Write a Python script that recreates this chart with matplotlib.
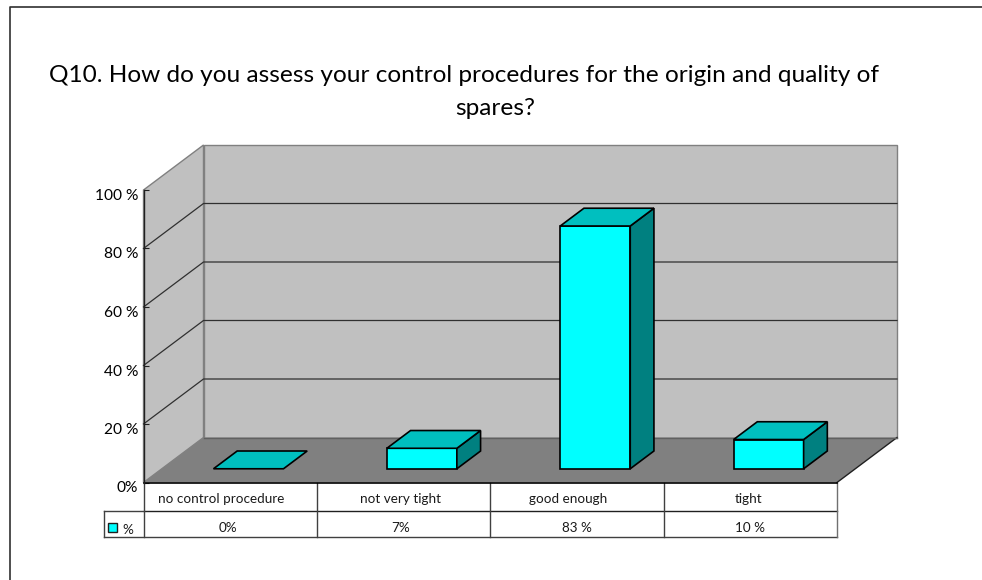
import matplotlib
matplotlib.use("Agg")
import matplotlib.pyplot as plt
from matplotlib.patches import Polygon, Rectangle
from matplotlib.transforms import ScaledTranslation

plt.rcParams['font.family'] = ['Lato', 'DejaVu Sans']

# Survey results
categories = ["no control procedure", "not very tight", "good enough", "tight"]
values = [0, 7, 83, 10]
value_labels = ["0%", "7%", "83 %", "10 %"]
tick_values = [0, 20, 40, 60, 80, 100]
tick_labels = ["0%", "20 %", "40 %", "60 %", "80 %", "100 %"]
series_name = "%"
title_first = "Q10. How do you assess your control procedures for the origin and quality of"
title_second = "spares?"

W, H = 982, 580
fig = plt.figure(figsize=(W / 100, H / 100), dpi=100)

# Plot box of the front plane, in pixels from the top-left corner
PX_L, PX_R, PX_T, PX_B = 143.5, 837.0, 190.0, 482.5
ax = fig.add_axes([PX_L / W, 1 - PX_B / H, (PX_R - PX_L) / W, (PX_B - PX_T) / H])
ax.set_xlim(0, len(categories))
ax.set_ylim(0, 100)
ax.patch.set_alpha(0)
for side in ("top", "right", "bottom"):
    ax.spines[side].set_visible(False)
ax.spines["left"].set_color("#202020")
ax.spines["left"].set_linewidth(1.0)

x_per_px = len(categories) / (PX_R - PX_L)
y_per_px = 100 / (PX_B - PX_T)
DEPTH_X = 60 * x_per_px
DEPTH_Y = 45 * y_per_px


def proj(x, y, d=0.0):
    """Oblique projection: d runs from 0 (front plane) to 1 (back wall)."""
    return (x + d * DEPTH_X, y + d * DEPTH_Y)


def face(points, **kw):
    kw.setdefault("clip_on", False)
    ax.add_patch(Polygon(points, closed=True, **kw))


n = len(categories)
wall_c, floor_c = "#C0C0C0", "#808080"
edge_c = "#808080"

# Back wall, side wall, floor
face([proj(0, 0, 1), proj(n, 0, 1), proj(n, 100, 1), proj(0, 100, 1)],
     facecolor=wall_c, edgecolor=edge_c, linewidth=1.0, zorder=1)
face([proj(0, 0, 0), proj(0, 0, 1), proj(0, 100, 1), proj(0, 100, 0)],
     facecolor=wall_c, edgecolor=edge_c, linewidth=1.0, zorder=1)
face([proj(0, 0, 0), proj(n, 0, 0), proj(n, 0, 1), proj(0, 0, 1)],
     facecolor=floor_c, edgecolor="none", zorder=2)
ax.plot(*zip(proj(n, 0, 0), proj(n, 0, 1)), color="#202020", lw=1.0, zorder=2.1, clip_on=False)
ax.plot(*zip(proj(0, 0, 0), proj(n, 0, 0)), color="black", lw=1.2, zorder=2.1, clip_on=False)
ax.plot(*zip(proj(0, 0, 1), proj(n, 0, 1)), color="#606060", lw=1.0, zorder=2.1, clip_on=False)

# Gridlines along the walls
for t in tick_values[1:-1]:
    ax.plot(*zip(proj(0, t, 0), proj(0, t, 1), proj(n, t, 1)),
            color="#303030", lw=0.9, zorder=1.5, clip_on=False)

# Bars
BAR_W = 70 * x_per_px
D_FRONT, D_BACK = 0.305, 0.70
front_c, top_c, side_c = "#00FFFF", "#00BFBF", "#008080"
for i, v in enumerate(values):
    x0 = i + 0.5 - BAR_W / 2
    x1 = x0 + BAR_W
    style = dict(edgecolor="black", linewidth=1.2, joinstyle="miter", zorder=3 + i)
    if v > 0:
        face([proj(x0, 0, D_FRONT), proj(x1, 0, D_FRONT), proj(x1, v, D_FRONT), proj(x0, v, D_FRONT)],
             facecolor=front_c, **style)
        face([proj(x1, 0, D_FRONT), proj(x1, 0, D_BACK), proj(x1, v, D_BACK), proj(x1, v, D_FRONT)],
             facecolor=side_c, **style)
    face([proj(x0, v, D_FRONT), proj(x1, v, D_FRONT), proj(x1, v, D_BACK), proj(x0, v, D_BACK)],
         facecolor=top_c, **style)

# Value axis; its labels sit a little below their ticks
ax.set_yticks(tick_values)
ax.set_yticklabels(tick_labels, fontsize=11.2, color="black")
ax.tick_params(axis="y", direction="in", length=3.5, width=0.8, color="#202020", pad=4)
label_shift = ScaledTranslation(0, -4.5 / 100, fig.dpi_scale_trans)
for lab in ax.get_yticklabels():
    lab.set_transform(lab.get_transform() + label_shift)
ax.set_xticks([])

# Data table beneath the plot, rows measured in pixels below the axis
ROW1, ROW2 = 28.0 * y_per_px, 54.5 * y_per_px
LEG_W = 40 * x_per_px
tbl = dict(color="#404040", lw=1.0, clip_on=False, zorder=2, solid_capstyle="projecting")
ax.plot([0, n], [-ROW1, -ROW1], **{**tbl, "color": "#202020"})
ax.plot([-LEG_W, n], [-ROW2, -ROW2], **tbl)
ax.plot([-LEG_W, 0], [-ROW1, -ROW1], **tbl)
ax.plot([-LEG_W, -LEG_W], [-ROW1, -ROW2], **tbl)
for k in range(n + 1):
    ax.plot([k, k], [0, -ROW2], **{**tbl, "color": "#707070" if k == n else "#404040"})

# Horizontal nudges of the table text, in pixels
cat_nudge = [-9.5, -3.5, -8.5, -2.0]
val_nudge = [-2.0, -2.5, 0.0, 0.0]
for i, (c, lab) in enumerate(zip(categories, value_labels)):
    ax.text(i + 0.5 + cat_nudge[i] * x_per_px, -16.5 * y_per_px, c, ha="center", va="center",
            fontsize=9.7, color="#1a1a1a", clip_on=False)
    ax.text(i + 0.5 + val_nudge[i] * x_per_px, -45.5 * y_per_px, lab, ha="center", va="center",
            fontsize=9.7, color="#1a1a1a", clip_on=False)

# Legend key inside the table
ax.add_patch(Rectangle((-35.5 * x_per_px, -ROW1 - 21 * y_per_px), 9 * x_per_px, 9 * y_per_px,
                       facecolor=front_c, edgecolor="#202020", lw=1.0, clip_on=False, zorder=3))
ax.text(-15.5 * x_per_px, -ROW1 - 19 * y_per_px, series_name, ha="center", va="center",
        fontsize=9.7, color="#1a1a1a", clip_on=False)

# Title, two separately placed lines
fig.text(464 / W, 1 - 82 / H, title_first, ha="center", va="baseline", fontsize=17.6, color="black")
fig.text(495 / W, 1 - 115 / H, title_second, ha="center", va="baseline", fontsize=17.6, color="black")

# Frame around the chart: only the top and left edges are visible
fig.add_artist(plt.Line2D([10 / W, 10 / W, 1], [0, 1 - 6.5 / H, 1 - 6.5 / H],
                          color="#303030", lw=1.2, transform=fig.transFigure))

fig.savefig("out.png", dpi=100, facecolor="white")
